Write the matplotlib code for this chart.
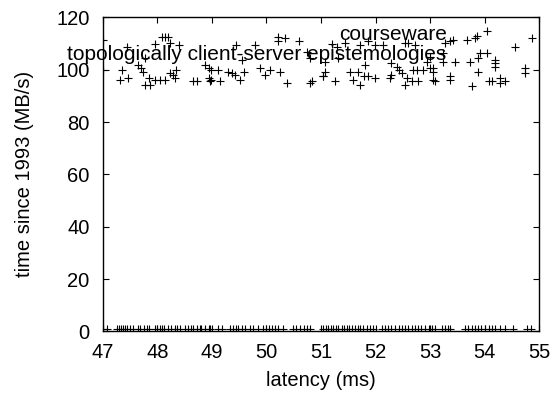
import numpy as np
import matplotlib
matplotlib.use('Agg')
import matplotlib.pyplot as plt

# upper band of points (latency, value)
upper_x = [47.01, 47.01, 48.08, 48.20, 47.96, 48.39, 47.44, 47.35, 47.65, 47.71,
           47.74, 47.32, 47.47, 47.77, 47.87, 47.84, 47.96, 48.05, 48.14, 48.23,
           48.29, 48.35, 48.32, 48.66, 48.72, 48.87, 48.94, 48.94, 48.97, 47.78,
           48.23, 48.15,
           50.22, 50.22, 50.34, 50.60, 49.45, 49.79, 49.55, 50.74, 50.80, 48.99,
           49.12, 49.30, 49.36, 49.42, 49.58, 49.88, 50.07, 50.25, 49.97, 48.99,
           49.15, 49.52, 50.37, 50.80, 50.83, 51.04,
           51.20, 51.29, 51.44, 51.71, 51.87, 51.99, 52.14, 52.54, 52.60, 52.72,
           51.07, 51.07, 51.04, 51.32, 51.53, 51.68, 51.59, 51.78, 51.87, 51.99,
           51.71, 51.26, 52.29, 52.29, 52.42, 52.48, 52.57, 52.69, 52.75, 52.87,
           53.00, 52.94, 53.00, 52.26, 52.54, 52.66, 52.78, 53.09, 51.80, 52.39,
           53.27, 53.36, 53.42, 53.67, 53.85, 54.04, 54.86, 54.55, 53.24, 53.24,
           53.46, 53.73, 53.91, 54.04, 53.88, 54.19, 54.19, 54.19, 53.88, 54.74,
           54.74, 53.06, 53.06, 53.06, 53.36, 53.36, 53.76, 54.07, 54.13, 54.28,
           54.28, 54.37, 53.82]
upper_y = [111.4, 99.9, 112.3, 112.3, 109.7, 109.5, 108.8, 99.9, 101.8, 100.6,
           99.3, 96.1, 96.7, 94.2, 94.2, 96.7, 96.1, 96.1, 96.1, 98.7,
           98.0, 99.9, 96.7, 95.5, 95.5, 101.8, 100.6, 96.7, 95.5, 104.4,
           110.0, 112.6,
           112.3, 110.8, 112.1, 110.8, 109.5, 109.5, 103.7, 106.9, 104.4, 99.9,
           99.9, 99.3, 98.7, 98.0, 99.3, 100.6, 99.9, 99.3, 98.0, 96.1,
           95.5, 96.1, 94.8, 94.8, 95.5, 97.4,
           109.7, 108.8, 110.1, 109.5, 110.8, 109.5, 109.5, 110.1, 110.1, 109.5,
           103.1, 99.3, 97.4, 104.4, 99.3, 99.3, 96.1, 97.4, 97.4, 96.7,
           94.2, 95.5, 102.5, 98.0, 99.9, 98.7, 96.7, 99.9, 99.9, 99.9,
           100.6, 103.1, 105.0, 96.7, 94.2, 95.5, 95.5, 95.5, 101.7, 101.0,
           110.1, 110.8, 111.4, 111.4, 112.7, 114.6, 112.1, 108.8, 106.3, 103.1,
           103.1, 103.1, 106.3, 106.3, 104.4, 103.7, 102.5, 101.2, 99.3, 100.6,
           98.7, 100.6, 99.3, 96.1, 97.4, 96.1, 93.6, 95.5, 95.5, 96.7,
           94.8, 95.5, 112.0]

# lower band of points, all close to zero
lower_x = [47.01, 47.08, 47.26, 47.30, 47.33, 47.38, 47.41, 47.45, 47.50, 47.56,
           47.64, 47.68, 47.76, 47.81, 47.84, 47.96, 48.00, 48.05, 48.09, 48.13,
           48.20, 48.26, 48.32, 48.37, 48.42, 48.51, 48.57, 48.61, 48.66, 48.72,
           48.78, 48.81, 48.87, 48.94, 48.97, 49.12, 49.18, 49.33, 49.39, 49.44,
           49.48, 49.55, 49.61, 49.70, 49.75, 49.85, 49.94, 50.00, 50.05, 50.10,
           50.16, 50.22, 50.31, 50.49, 50.55, 50.62, 50.68, 50.74, 50.80,
           51.04, 51.09, 51.13, 51.18, 51.22, 51.27, 51.32, 51.38, 51.42, 51.47,
           51.52, 51.56, 51.62, 51.67, 51.71, 51.77, 51.84, 51.90, 51.96, 52.11,
           52.17, 52.23, 52.29, 52.36, 52.42, 52.48, 52.54, 52.60, 52.66, 52.72,
           52.78, 52.84, 52.90, 52.97, 53.03, 53.09, 53.21, 53.27, 53.32, 53.36,
           53.64, 53.70, 53.76, 53.82, 53.88, 53.94, 54.00, 54.07, 54.13, 54.19,
           54.28, 54.37, 54.52, 54.77, 54.84]
lower_y = [0.8] * len(lower_x)

labels = ['courseware', 'topologically client-server epistemologies']
label_x = [53.3, 53.3]
label_y = [111.5, 103.6]

plt.rcParams['font.family'] = ['Liberation Sans', 'DejaVu Sans']
fs = 14.5

fig = plt.figure(figsize=(5.54, 3.96), dpi=100)
ax = fig.add_axes([0.1854, 0.1629, 0.7881, 0.7934])

ax.plot(upper_x, upper_y, '+', color='black', markersize=5.2, markeredgewidth=0.8)
ax.plot(lower_x, lower_y, '+', color='black', markersize=5.2, markeredgewidth=0.8)

for txt, lx, ly in zip(labels, label_x, label_y):
    ax.text(lx, ly, txt, ha='right', va='baseline', fontsize=15)

ax.set_xlim(47, 55)
ax.set_ylim(0, 120)
ax.set_xticks(np.arange(47, 56, 1))
ax.set_yticks(np.arange(0, 121, 20))
ax.tick_params(direction='in', top=True, right=True, length=4.5, width=0.8,
               labelsize=fs)
ax.tick_params(axis='x', pad=8)
ax.tick_params(axis='y', pad=9.5)
for sp in ax.spines.values():
    sp.set_linewidth(1.0)

ax.set_xlabel('latency (ms)', fontsize=fs)
ax.set_ylabel('time since 1993 (MB/s)', fontsize=fs)
ax.xaxis.set_label_coords(0.5, -0.126)
ax.yaxis.set_label_coords(-0.158, 0.5)

fig.savefig('out.png', dpi=100)
